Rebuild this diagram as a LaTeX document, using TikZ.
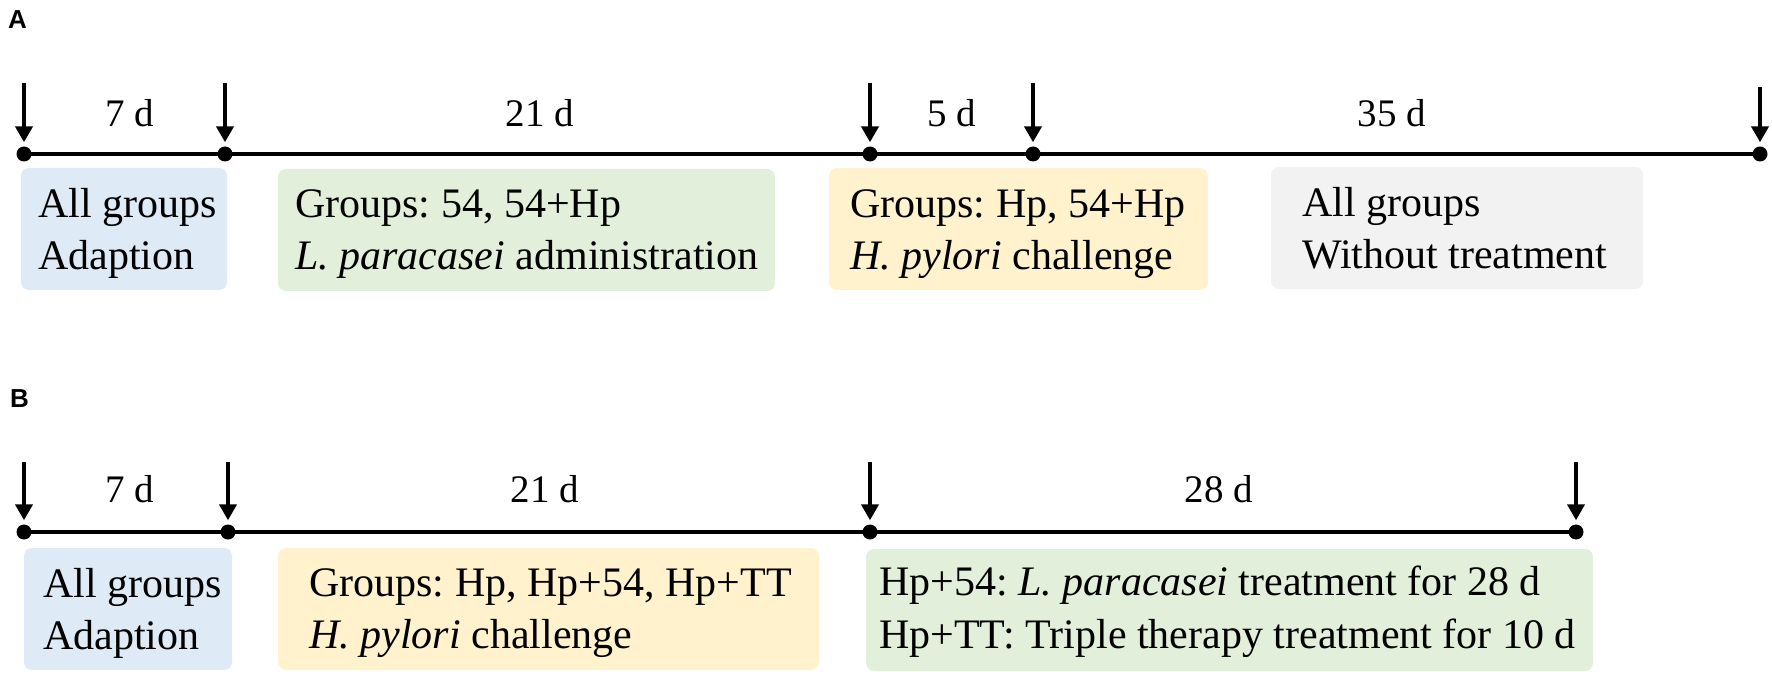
\documentclass[tikz,border=0pt]{standalone}
\usepackage{fontspec}
\setmainfont{Liberation Serif}
\newfontfamily\panelfont{Liberation Sans}
\newfontfamily\serifbox{Liberation Serif}
\usetikzlibrary{arrows.meta}
\definecolor{boxblue}{HTML}{DEEAF6}
\definecolor{boxgreen}{HTML}{E2EFDA}
\definecolor{boxyellow}{HTML}{FFF2CC}
\definecolor{boxgray}{HTML}{F2F2F2}
\begin{document}
\frenchspacing
\begin{tikzpicture}[x=1pt,y=-1pt,
  tline/.style={line width=4pt},
  dotn/.style={circle,fill=black,inner sep=0pt,minimum size=15pt},
  downarr/.style={line width=4pt,-{Triangle[width=17pt,length=16pt]},shorten >=4pt},
  dlabel/.style={font=\serifbox\fontsize{39}{47}\selectfont,inner sep=0pt,anchor=base},
  btext/.style={font=\serifbox\fontsize{42}{50}\selectfont,anchor=base west,inner sep=0pt},
  panellbl/.style={font=\panelfont\bfseries\fontsize{26}{30}\selectfont,anchor=base west,inner sep=0pt},
  bgbox/.style={rounded corners=8pt,draw=none,inner sep=0pt,minimum height=122pt}
]
\useasboundingbox (0,0) rectangle (1772,676);

% ---------------- Panel A ----------------
\node[panellbl] (pA) at (8,29) {A};

\node[bgbox,fill=boxblue,minimum width=206pt] (bA1) at (124,229) {};
\node[bgbox,fill=boxgreen,minimum width=497pt] (bA2) at (526.5,230) {};
\node[bgbox,fill=boxyellow,minimum width=379pt] (bA3) at (1018.5,229) {};
\node[bgbox,fill=boxgray,minimum width=372pt] (bA4) at (1457,228) {};

\node[dotn] (dA1) at (24,154) {};
\node[dotn] (dA2) at (225,154) {};
\node[dotn] (dA3) at (870,154) {};
\node[dotn] (dA4) at (1033,154) {};
\node[dotn] (dA5) at (1760,154) {};
\draw[tline] (dA1.center) -- (dA2.center) -- (dA3.center) -- (dA4.center) -- (dA5.center);

\coordinate (tA1) at (24,83);
\coordinate (tA2) at (225,83);
\coordinate (tA3) at (870,83);
\coordinate (tA4) at (1033,83);
\coordinate (tA5) at (1760,87);
\draw[downarr] (tA1) -- (dA1);
\draw[downarr] (tA2) -- (dA2);
\draw[downarr] (tA3) -- (dA3);
\draw[downarr] (tA4) -- (dA4);
\draw[downarr] (tA5) -- (dA5);

\node[dlabel] (lA1) at (130,127) {7 d};
\node[dlabel] (lA2) at (540,127) {21 d};
\node[dlabel] (lA3) at (952,127) {5 d};
\node[dlabel] (lA4) at (1392,127) {35 d};

\node[btext] (tA1a) at (38,218) {All groups};
\node[btext] (tA1b) at (38,270) {Adaption};
\node[btext] (tA2a) at (295,218) {Groups: 54, 54+Hp};
\node[btext] (tA2b) at (295,270) {\textit{L. paracasei} administration};
\node[btext] (tA3a) at (850,218) {Groups: Hp, 54+Hp};
\node[btext] (tA3b) at (850,270) {\textit{H. pylori} challenge};
\node[btext] (tA4a) at (1302,217) {All groups};
\node[btext] (tA4b) at (1302,269) {Without treatment};

% ---------------- Panel B ----------------
\node[panellbl] (pB) at (10,407) {B};

\node[bgbox,fill=boxblue,minimum width=208pt] (bB1) at (128,609) {};
\node[bgbox,fill=boxyellow,minimum width=541pt] (bB2) at (548.5,609) {};
\node[bgbox,fill=boxgreen,minimum width=727pt] (bB3) at (1229.5,610) {};

\node[dotn] (dB1) at (24,532) {};
\node[dotn] (dB2) at (228,532) {};
\node[dotn] (dB3) at (870,532) {};
\node[dotn] (dB4) at (1576,532) {};
\draw[tline] (dB1.center) -- (dB2.center) -- (dB3.center) -- (dB4.center);

\coordinate (tB1) at (24,462);
\coordinate (tB2) at (228,462);
\coordinate (tB3) at (870,462);
\coordinate (tB4) at (1576,462);
\draw[downarr] (tB1) -- (dB1);
\draw[downarr] (tB2) -- (dB2);
\draw[downarr] (tB3) -- (dB3);
\draw[downarr] (tB4) -- (dB4);

\node[dlabel] (lB1) at (130,502) {7 d};
\node[dlabel] (lB2) at (545,502) {21 d};
\node[dlabel] (lB3) at (1219,502) {28 d};

\node[btext] (tB1a) at (43,597) {All groups};
\node[btext] (tB1b) at (43,649) {Adaption};
\node[btext] (tB2a) at (309,596) {Groups: Hp, Hp+54, Hp+TT};
\node[btext] (tB2b) at (309,648) {\textit{H. pylori} challenge};
\node[btext] (tB3a) at (879,595) {Hp+54: \textit{L. paracasei} treatment for 28 d};
\node[btext] (tB3b) at (879,648) {Hp+TT: Triple therapy treatment for 10 d};
\end{tikzpicture}
\end{document}
